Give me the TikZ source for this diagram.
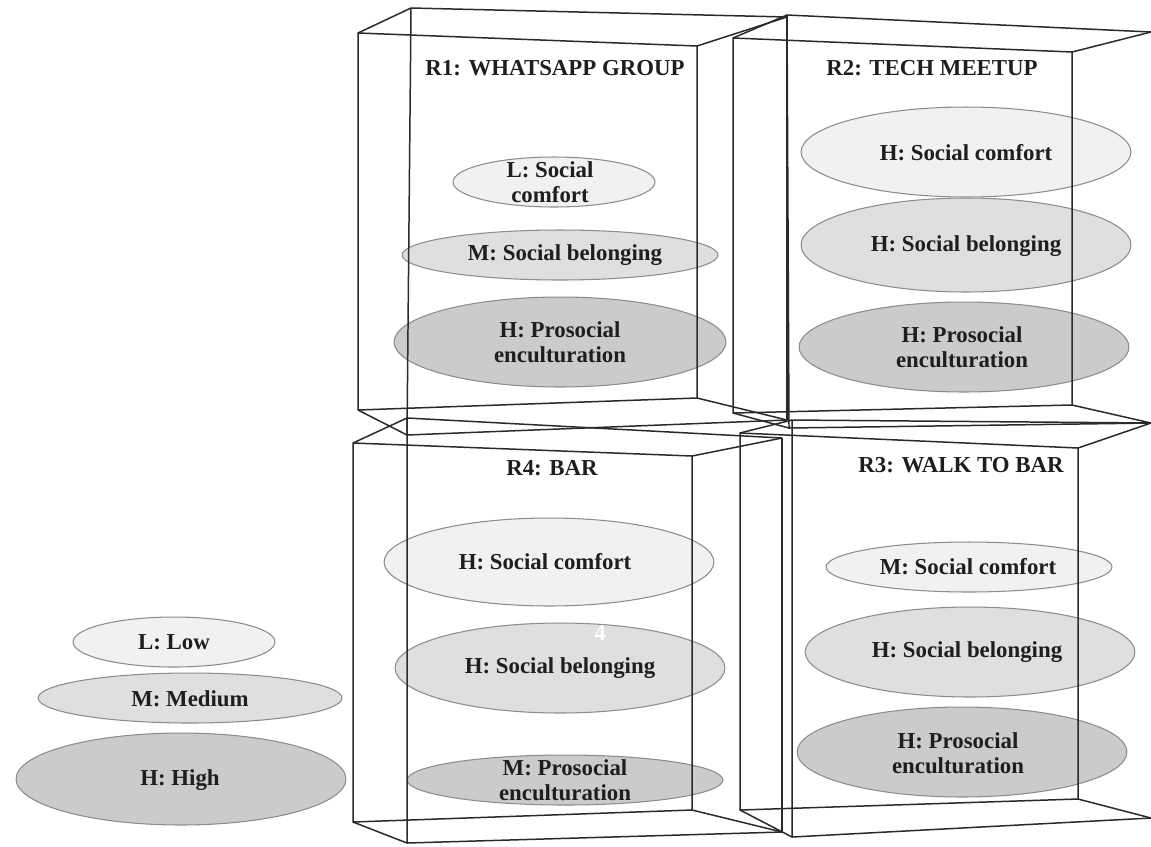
\documentclass[tikz,border=0pt]{standalone}
\usepackage{fontspec}
\setmainfont{Liberation Serif}
\usetikzlibrary{shapes.geometric}

\definecolor{edgec}{HTML}{2A2A2A}
\definecolor{fillL}{HTML}{F1F1F1}
\definecolor{fillM}{HTML}{DFDFDF}
\definecolor{fillH}{HTML}{CBCBCB}
\definecolor{rimc}{HTML}{8C8C8C}
\definecolor{inkc}{HTML}{1E1E1E}

\tikzset{
  edge/.style={draw=edgec, line width=0.85pt, line join=round},
  disc/.style 2 args={ellipse, draw=rimc, line width=0.6pt, inner sep=0pt,
    minimum width={#1*0.04cm}, minimum height={#2*0.04cm}},
  lbl/.style={text=inkc, font=\bfseries\fontsize{13}{14.2}\selectfont,
    align=center, inner sep=0pt},
}

% wireframe box from eight named corners: <name>fTL ... <name>bBL
\newcommand\wirebox[2][1]{%
  \draw[edge] (#2fTL) -- (#2fTR) -- (#2fBR) -- (#2fBL) -- cycle;
  \draw[edge] (#2bTR) -- (#2bTL) -- (#2bBL) -- (#2bBR);
  \draw[edge] (#2fTL) -- (#2bTL);
  \draw[edge] (#2fTR) -- (#2bTR);
  \draw[edge] (#2fBR) -- (#2bBR);
  \draw[edge] (#2fBL) -- (#2bBL);
  \ifnum#1=1 \draw[edge] (#2bTR) -- (#2bBR);\fi
}

\begin{document}
\begin{tikzpicture}[x=0.02cm, y=-0.02cm]
\path[use as bounding box, fill=white] (0,0) rectangle (1151,846);

% ---- corners of the four boxes ----
% R1
\coordinate (afTL) at (358,33);  \coordinate (afTR) at (697,46);
\coordinate (afBR) at (697,398); \coordinate (afBL) at (358,410);
\coordinate (abTL) at (411,8);   \coordinate (abTR) at (787,17);
\coordinate (abBR) at (787,420); \coordinate (abBL) at (407,435);
% R2
\coordinate (bfTL) at (733,38);  \coordinate (bfTR) at (1072,52);
\coordinate (bfBR) at (1072,405);\coordinate (bfBL) at (733,413);
\coordinate (bbTL) at (787,15);  \coordinate (bbTR) at (1151,32);
\coordinate (bbBR) at (1151,423);\coordinate (bbBL) at (789,428);
% R4
\coordinate (dfTL) at (353,443); \coordinate (dfTR) at (692,456);
\coordinate (dfBR) at (692,810); \coordinate (dfBL) at (353,822);
\coordinate (dbTL) at (407,418); \coordinate (dbTR) at (782,438);
\coordinate (dbBR) at (782,832); \coordinate (dbBL) at (407,843);
% R3
\coordinate (cfTL) at (740,433); \coordinate (cfTR) at (1078,448);
\coordinate (cfBR) at (1078,799);\coordinate (cfBL) at (740,810);
\coordinate (cbTL) at (792,420); \coordinate (cbTR) at (1151,423);
\coordinate (cbBR) at (1151,818);\coordinate (cbBL) at (792,837);

% ---- legend ----
\node[disc={101}{25}, fill=fillL] (lgL) at (174,642) {};
\node[disc={152}{25}, fill=fillM] (lgM) at (190,698) {};
\node[disc={165}{46}, fill=fillH] (lgH) at (181,779) {};

% ---- R1 discs ----
\node[disc={101}{25}, fill=fillL] (aC) at (554,182) {};
\node[disc={158}{25}, fill=fillM] (aB) at (560,255) {};
\node[disc={166}{45}, fill=fillH] (aE) at (560,342) {};
% ---- R2 discs ----
\node[disc={165}{45}, fill=fillL] (bC) at (966,152) {};
\node[disc={165}{47}, fill=fillM] (bB) at (966,245) {};
\node[disc={165}{45}, fill=fillH] (bE) at (964,347) {};
% ---- R4 discs ----
\node[disc={165}{44}, fill=fillL] (dC) at (549,562) {};
\node[disc={165}{45}, fill=fillM] (dB) at (560,668) {};
\node[disc={158}{25}, fill=fillH] (dE) at (565,780) {};
% ---- R3 discs ----
\node[disc={143}{25}, fill=fillL] (cC) at (969,567) {};
\node[disc={165}{45}, fill=fillM] (cB) at (970,652) {};
\node[disc={165}{45}, fill=fillH] (cE) at (962,752) {};

% ---- boxes ----
\wirebox{a}
\wirebox[0]{b}
\wirebox{d}
\wirebox[0]{c}

% ---- titles ----
\node[lbl] (aT) at (555,68)  {R1: WHATSAPP GROUP};
\node[lbl] (bT) at (932,68)  {R2: TECH MEETUP};
\node[lbl] (dT) at (552,468) {R4: BAR};
\node[lbl] (cT) at (961,465) {R3: WALK TO BAR};

% ---- labels ----
\node[lbl] (lgLt) at (174,642) {L: Low};
\node[lbl] (lgMt) at (190,699) {M: Medium};
\node[lbl] (lgHt) at (180,780) {H: High};

\node[lbl] (aCt) at (550,182) {L: Social\\comfort};
\node[lbl] (aBt) at (565,255) {M: Social belonging};
\node[lbl] (aEt) at (560,342) {H: Prosocial\\enculturation};

\node[lbl] (bCt) at (966,153) {H: Social comfort};
\node[lbl] (bBt) at (966,246) {H: Social belonging};
\node[lbl] (bEt) at (962,347) {H: Prosocial\\enculturation};

\node[lbl] (dCt) at (545,562) {H: Social comfort};
\node[lbl] (dBt) at (560,668) {H: Social belonging};
\node[lbl] (dEt) at (565,780) {M: Prosocial\\enculturation};
\node[lbl, text=white] (dMark) at (600,633) {4};

\node[lbl] (cCt) at (968,567) {M: Social comfort};
\node[lbl] (cBt) at (967,652) {H: Social belonging};
\node[lbl] (cEt) at (958,753) {H: Prosocial\\enculturation};
\end{tikzpicture}
\end{document}
